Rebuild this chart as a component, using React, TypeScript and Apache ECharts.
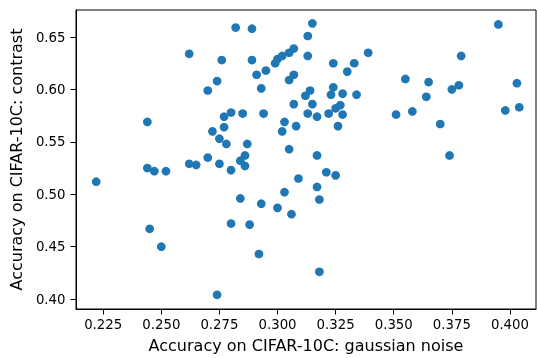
import React, { useEffect, useRef } from "react";
import * as echarts from "echarts";

const gaussianNoise = [
  0.282, 0.289, 0.262, 0.276, 0.289, 0.307, 0.305, 0.302, 0.300, 0.299,
  0.295, 0.291, 0.274, 0.270, 0.293, 0.307, 0.305, 0.307, 0.294, 0.244,
  0.277, 0.280, 0.285, 0.303, 0.308, 0.277, 0.272, 0.302, 0.275, 0.278,
  0.287, 0.305, 0.270, 0.286, 0.284, 0.286, 0.262, 0.265, 0.275, 0.280,
  0.244, 0.247, 0.252, 0.309, 0.222, 0.303, 0.284, 0.293, 0.300, 0.306,
  0.280, 0.288, 0.245, 0.250, 0.292, 0.274,
  0.315, 0.313, 0.313, 0.339, 0.324, 0.333, 0.330, 0.355, 0.365, 0.379,
  0.395, 0.403, 0.375, 0.378, 0.364, 0.314, 0.312, 0.324, 0.323, 0.328,
  0.334, 0.315, 0.313, 0.317, 0.322, 0.325, 0.327, 0.328, 0.351, 0.358,
  0.398, 0.404, 0.326, 0.370, 0.317, 0.374, 0.321, 0.325, 0.317, 0.318,
  0.318,
];

const contrast = [
  0.659, 0.658, 0.634, 0.628, 0.628, 0.639, 0.635, 0.632, 0.629, 0.625,
  0.618, 0.614, 0.608, 0.599, 0.601, 0.614, 0.609, 0.586, 0.577, 0.569,
  0.574, 0.578, 0.577, 0.569, 0.565, 0.564, 0.560, 0.560, 0.553, 0.548,
  0.548, 0.543, 0.535, 0.537, 0.532, 0.527, 0.529, 0.528, 0.529, 0.523,
  0.525, 0.522, 0.522, 0.515, 0.512, 0.502, 0.496, 0.491, 0.487, 0.481,
  0.472, 0.471, 0.467, 0.450, 0.443, 0.404,
  0.663, 0.651, 0.632, 0.635, 0.625, 0.625, 0.617, 0.610, 0.607, 0.632,
  0.662, 0.606, 0.600, 0.604, 0.593, 0.599, 0.594, 0.602, 0.595, 0.596,
  0.595, 0.586, 0.577, 0.574, 0.577, 0.582, 0.585, 0.576, 0.576, 0.579,
  0.580, 0.583, 0.565, 0.567, 0.537, 0.537, 0.521, 0.518, 0.507, 0.495,
  0.426,
];

const xTicks = [0.225, 0.25, 0.275, 0.3, 0.325, 0.35, 0.375, 0.4];
const yTicks = [0.4, 0.45, 0.5, 0.55, 0.6, 0.65];

const xLabel = "Accuracy on CIFAR-10C: gaussian noise";
const yLabel = "Accuracy on CIFAR-10C: contrast";

const FONT = "DejaVu Sans";

export default function App() {
  const ref = useRef<HTMLDivElement>(null);
  useEffect(() => {
    if (!ref.current) return;
    const chart = echarts.init(ref.current, undefined, { renderer: "svg" });
    const data = gaussianNoise.map((x, i) => [x, contrast[i]]);
    chart.setOption({
      animation: false,
      grid: {
        left: 76,
        right: 1,
        top: 10,
        bottom: 46.5,
        show: true,
        borderColor: "#000",
        borderWidth: 1,
        backgroundColor: "transparent",
      },
      xAxis: {
        type: "value",
        min: 0.2133,
        max: 0.4112,
        name: xLabel,
        nameLocation: "middle",
        nameGap: 28,
        nameTextStyle: { fontFamily: FONT, fontSize: 16, color: "#000" },
        axisLine: { show: true, lineStyle: { color: "#000", width: 1 } },
        axisTick: {
          show: true,
          length: 5.5,
          inside: false,
          customValues: xTicks,
          lineStyle: { color: "#000", width: 1 },
        },
        axisLabel: {
          customValues: xTicks,
          formatter: (v: number) => v.toFixed(3),
          fontFamily: FONT,
          fontSize: 13.3,
          color: "#000",
          margin: 8.5,
        },
        splitLine: { show: false },
      },
      yAxis: {
        type: "value",
        min: 0.3905,
        max: 0.6758,
        name: yLabel,
        nameLocation: "middle",
        nameGap: 45,
        nameRotate: 90,
        nameTextStyle: { fontFamily: FONT, fontSize: 16, color: "#000" },
        axisLine: { show: true, lineStyle: { color: "#000", width: 1 } },
        axisTick: {
          show: true,
          length: 5.5,
          inside: false,
          customValues: yTicks,
          lineStyle: { color: "#000", width: 1 },
        },
        axisLabel: {
          customValues: yTicks,
          formatter: (v: number) => v.toFixed(2),
          fontFamily: FONT,
          fontSize: 13.3,
          color: "#000",
          margin: 10.5,
        },
        splitLine: { show: false },
      },
      series: [
        {
          type: "scatter",
          data,
          symbolSize: 8.7,
          itemStyle: { color: "#1f77b4", opacity: 1 },
        },
      ],
    });
    return () => chart.dispose();
  }, []);
  return (
    <div
      ref={ref}
      style={{ position: "fixed", left: 0, top: 0, width: 537, height: 358 }}
    />
  );
}
